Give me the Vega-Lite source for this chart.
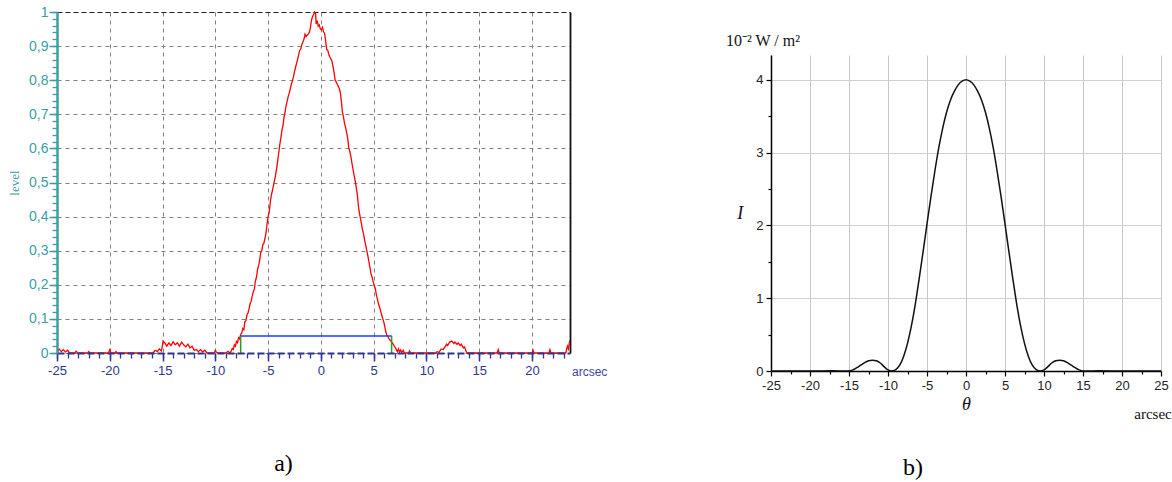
{
  "$schema": "https://vega.github.io/schema/vega-lite/v6.json",
  "padding": {"left": 8, "top": 5, "right": 0, "bottom": 0},
  "spacing": 118,
  "config": {"view": {"stroke": null}, "axis": {"labelFont": "Liberation Sans"}},
  "hconcat": [
    {
      "width": 513,
      "height": 341,
      "title": {"text": "a)", "orient": "bottom", "font": "Liberation Serif", "fontSize": 24, "fontWeight": "normal", "color": "black", "offset": 74, "dx": -30},
      "resolve": {"axis": {"x": "independent", "y": "independent"}},
      "layer": [
        {
          "data": {"values": [
            {"t": -25, "v": 0}, {"t": -24.8, "v": 0.012}, {"t": -24.6, "v": 0.004}, {"t": -24.4, "v": 0.01}, {"t": -24.2, "v": 0.003}, {"t": -24.0, "v": 0.008}, {"t": -23.8, "v": 0}, {"t": -23.3, "v": 0}, {"t": -23.2, "v": 0.005}, {"t": -23.0, "v": 0}, {"t": -22.1, "v": 0}, {"t": -22.0, "v": 0.004}, {"t": -21.9, "v": 0}, {"t": -20.1, "v": 0}, {"t": -20.0, "v": 0.012}, {"t": -19.9, "v": 0}, {"t": -19.5, "v": 0}, {"t": -19.4, "v": 0.004}, {"t": -19.3, "v": 0},
            {"t": -15.9, "v": 0}, {"t": -15.7, "v": 0.008}, {"t": -15.5, "v": 0.004}, {"t": -15.3, "v": 0.012}, {"t": -15.1, "v": 0.006}, {"t": -14.95, "v": 0.035}, {"t": -14.8, "v": 0.03}, {"t": -14.6, "v": 0.02}, {"t": -14.4, "v": 0.03}, {"t": -14.2, "v": 0.022}, {"t": -14.0, "v": 0.033}, {"t": -13.8, "v": 0.024}, {"t": -13.6, "v": 0.03}, {"t": -13.4, "v": 0.02}, {"t": -13.2, "v": 0.032}, {"t": -13.0, "v": 0.024}, {"t": -12.8, "v": 0.018}, {"t": -12.6, "v": 0.026}, {"t": -12.4, "v": 0.015}, {"t": -12.2, "v": 0.02}, {"t": -12.0, "v": 0.008}, {"t": -11.8, "v": 0.01}, {"t": -11.6, "v": 0.004}, {"t": -11.4, "v": 0.01}, {"t": -11.2, "v": 0.003}, {"t": -11.0, "v": 0.008}, {"t": -10.8, "v": 0}, {"t": -10.1, "v": 0}, {"t": -10.0, "v": 0.008}, {"t": -9.9, "v": 0.002}, {"t": -9.7, "v": 0}, {"t": -9.0, "v": 0}, {"t": -8.8, "v": 0.005},
            {"t": -8.6, "v": 0}, {"t": -8.5, "v": 0.006}, {"t": -8.4, "v": 0.013}, {"t": -8.3, "v": 0.01}, {"t": -8.2, "v": 0.024}, {"t": -8.1, "v": 0.02}, {"t": -8.0, "v": 0.034}, {"t": -7.9, "v": 0.03}, {"t": -7.8, "v": 0.045}, {"t": -7.7, "v": 0.041}, {"t": -7.6, "v": 0.055}, {"t": -7.5, "v": 0.058}, {"t": -7.4, "v": 0.072}, {"t": -7.3, "v": 0.068}, {"t": -7.2, "v": 0.092}, {"t": -7.1, "v": 0.095}, {"t": -7.0, "v": 0.112}, {"t": -6.9, "v": 0.118}, {"t": -6.8, "v": 0.13}, {"t": -6.7, "v": 0.145}, {"t": -6.6, "v": 0.152}, {"t": -6.5, "v": 0.168}, {"t": -6.4, "v": 0.18}, {"t": -6.3, "v": 0.188}, {"t": -6.2, "v": 0.212}, {"t": -6.1, "v": 0.222}, {"t": -6.0, "v": 0.245}, {"t": -5.9, "v": 0.256}, {"t": -5.8, "v": 0.272}, {"t": -5.7, "v": 0.295}, {"t": -5.6, "v": 0.3}, {"t": -5.5, "v": 0.318}, {"t": -5.4, "v": 0.322}, {"t": -5.3, "v": 0.335}, {"t": -5.2, "v": 0.352}, {"t": -5.1, "v": 0.378}, {"t": -5.0, "v": 0.4}, {"t": -4.9, "v": 0.412}, {"t": -4.8, "v": 0.44}, {"t": -4.7, "v": 0.462}, {"t": -4.6, "v": 0.475}, {"t": -4.5, "v": 0.49}, {"t": -4.4, "v": 0.505}, {"t": -4.3, "v": 0.52}, {"t": -4.2, "v": 0.54}, {"t": -4.1, "v": 0.562}, {"t": -4.0, "v": 0.585}, {"t": -3.9, "v": 0.61}, {"t": -3.8, "v": 0.628}, {"t": -3.7, "v": 0.652}, {"t": -3.6, "v": 0.665}, {"t": -3.5, "v": 0.69}, {"t": -3.4, "v": 0.705}, {"t": -3.3, "v": 0.725}, {"t": -3.2, "v": 0.738}, {"t": -3.1, "v": 0.752}, {"t": -3.0, "v": 0.762}, {"t": -2.9, "v": 0.775}, {"t": -2.8, "v": 0.788}, {"t": -2.7, "v": 0.798}, {"t": -2.6, "v": 0.81}, {"t": -2.5, "v": 0.825}, {"t": -2.4, "v": 0.838}, {"t": -2.3, "v": 0.85}, {"t": -2.2, "v": 0.862}, {"t": -2.1, "v": 0.875}, {"t": -2.0, "v": 0.888}, {"t": -1.9, "v": 0.892}, {"t": -1.8, "v": 0.905}, {"t": -1.7, "v": 0.912}, {"t": -1.6, "v": 0.92}, {"t": -1.5, "v": 0.935}, {"t": -1.4, "v": 0.928}, {"t": -1.3, "v": 0.932}, {"t": -1.2, "v": 0.935}, {"t": -1.1, "v": 0.94}, {"t": -1.0, "v": 0.952}, {"t": -0.9, "v": 0.975}, {"t": -0.8, "v": 0.986}, {"t": -0.7, "v": 0.992}, {"t": -0.6, "v": 1.0}, {"t": -0.5, "v": 0.995}, {"t": -0.45, "v": 0.965}, {"t": -0.35, "v": 0.975}, {"t": -0.25, "v": 0.958}, {"t": -0.15, "v": 0.962}, {"t": -0.05, "v": 0.95}, {"t": 0.05, "v": 0.948}, {"t": 0.15, "v": 0.955}, {"t": 0.25, "v": 0.942}, {"t": 0.35, "v": 0.938}, {"t": 0.45, "v": 0.915}, {"t": 0.55, "v": 0.89}, {"t": 0.65, "v": 0.888}, {"t": 0.75, "v": 0.875}, {"t": 0.85, "v": 0.868}, {"t": 0.95, "v": 0.862}, {"t": 1.05, "v": 0.855}, {"t": 1.15, "v": 0.84}, {"t": 1.25, "v": 0.822}, {"t": 1.35, "v": 0.8}, {"t": 1.45, "v": 0.795}, {"t": 1.55, "v": 0.788}, {"t": 1.65, "v": 0.782}, {"t": 1.75, "v": 0.775}, {"t": 1.85, "v": 0.762}, {"t": 1.95, "v": 0.735}, {"t": 2.05, "v": 0.705}, {"t": 2.15, "v": 0.69}, {"t": 2.25, "v": 0.672}, {"t": 2.35, "v": 0.66}, {"t": 2.45, "v": 0.645}, {"t": 2.55, "v": 0.628}, {"t": 2.65, "v": 0.6}, {"t": 2.75, "v": 0.59}, {"t": 2.85, "v": 0.575}, {"t": 2.95, "v": 0.555}, {"t": 3.05, "v": 0.538}, {"t": 3.15, "v": 0.52}, {"t": 3.25, "v": 0.505}, {"t": 3.35, "v": 0.485}, {"t": 3.45, "v": 0.465}, {"t": 3.55, "v": 0.432}, {"t": 3.65, "v": 0.41}, {"t": 3.75, "v": 0.395}, {"t": 3.85, "v": 0.378}, {"t": 3.95, "v": 0.36}, {"t": 4.05, "v": 0.348}, {"t": 4.15, "v": 0.33}, {"t": 4.25, "v": 0.315}, {"t": 4.35, "v": 0.3}, {"t": 4.45, "v": 0.285}, {"t": 4.55, "v": 0.268}, {"t": 4.65, "v": 0.25}, {"t": 4.75, "v": 0.232}, {"t": 4.85, "v": 0.222}, {"t": 4.95, "v": 0.21}, {"t": 5.05, "v": 0.198}, {"t": 5.15, "v": 0.19}, {"t": 5.25, "v": 0.172}, {"t": 5.35, "v": 0.158}, {"t": 5.45, "v": 0.145}, {"t": 5.55, "v": 0.135}, {"t": 5.65, "v": 0.125}, {"t": 5.75, "v": 0.112}, {"t": 5.85, "v": 0.102}, {"t": 5.95, "v": 0.092}, {"t": 6.05, "v": 0.078}, {"t": 6.15, "v": 0.062}, {"t": 6.25, "v": 0.052}, {"t": 6.35, "v": 0.048}, {"t": 6.45, "v": 0.042}, {"t": 6.55, "v": 0.038}, {"t": 6.65, "v": 0.034}, {"t": 6.75, "v": 0.03}, {"t": 6.85, "v": 0.026}, {"t": 6.95, "v": 0.02}, {"t": 7.05, "v": 0.016}, {"t": 7.15, "v": 0.01}, {"t": 7.25, "v": 0.004}, {"t": 7.35, "v": 0.012}, {"t": 7.45, "v": 0.003}, {"t": 7.55, "v": 0.009}, {"t": 7.65, "v": 0.002}, {"t": 7.8, "v": 0.008}, {"t": 7.9, "v": 0},
            {"t": 8.3, "v": 0}, {"t": 8.4, "v": 0.006}, {"t": 8.5, "v": 0}, {"t": 10.9, "v": 0}, {"t": 11.0, "v": 0.004}, {"t": 11.2, "v": 0.002}, {"t": 11.4, "v": 0.012}, {"t": 11.6, "v": 0.01}, {"t": 11.8, "v": 0.02}, {"t": 11.9, "v": 0.026}, {"t": 12.0, "v": 0.022}, {"t": 12.2, "v": 0.032}, {"t": 12.4, "v": 0.035}, {"t": 12.6, "v": 0.028}, {"t": 12.7, "v": 0.032}, {"t": 12.9, "v": 0.025}, {"t": 13.0, "v": 0.03}, {"t": 13.2, "v": 0.022}, {"t": 13.3, "v": 0.026}, {"t": 13.5, "v": 0.015}, {"t": 13.6, "v": 0.018}, {"t": 13.8, "v": 0.002}, {"t": 13.9, "v": 0},
            {"t": 16.7, "v": 0}, {"t": 16.8, "v": 0.01}, {"t": 16.9, "v": 0}, {"t": 20.0, "v": 0}, {"t": 20.1, "v": 0.008}, {"t": 20.2, "v": 0}, {"t": 21.6, "v": 0}, {"t": 21.7, "v": 0.01}, {"t": 21.8, "v": 0}, {"t": 23.2, "v": 0}, {"t": 23.35, "v": 0.02}, {"t": 23.45, "v": 0.012}, {"t": 23.55, "v": 0.033}, {"t": 23.6, "v": 0.03}
          ]},
          "mark": {"type": "line", "color": "#ff0000", "strokeWidth": 1.3},
          "encoding": {
            "x": {"field": "t", "type": "quantitative", "scale": {"domain": [-25, 23.6], "nice": false, "zero": false},
              "axis": {"orient": "bottom", "values": [-25, -20, -15, -10, -5, 0, 5, 10, 15, 20], "labelExpr": "'' + datum.value", "labelColor": "#2d3590", "labelFontSize": 13, "labelPadding": 3, "labelFlush": false, "labelOverlap": false, "tickColor": "#2d3590", "tickSize": 8, "tickWidth": 1.5, "domain": false, "grid": true, "gridColor": "#808080", "gridDash": [4, 4], "gridWidth": 1, "title": null}},
            "y": {"field": "v", "type": "quantitative", "scale": {"domain": [0, 1], "nice": false},
              "axis": {"orient": "left", "values": [0, 0.1, 0.2, 0.3, 0.4, 0.5, 0.6, 0.7, 0.8, 0.9, 1], "labelExpr": "replace(format(datum.value, '.1~f'), '.', ',')", "labelColor": "#3c9ea3", "labelFontSize": 14, "labelPadding": 1, "labelFlush": false, "labelOverlap": false, "tickColor": "#3c9ea3", "tickSize": 8, "tickWidth": 1.5, "domain": false, "grid": true, "gridColor": "#808080", "gridDash": [4, 4], "gridWidth": 1, "title": "level", "titleFont": "Liberation Serif", "titleFontSize": 13, "titleFontWeight": "normal", "titleColor": "#3c9ea3", "titlePadding": 7}}
          }
        },
        {
          "data": {"values": [{"x1": -7.6, "x2": 6.7, "lev": 0.05}]},
          "mark": {"type": "rule", "color": "#1a3cff", "strokeWidth": 1.5},
          "encoding": {
            "x": {"field": "x1", "type": "quantitative",
              "axis": {"orient": "bottom", "values": [-25, -24, -23, -22, -21, -20, -19, -18, -17, -16, -15, -14, -13, -12, -11, -10, -9, -8, -7, -6, -5, -4, -3, -2, -1, 0, 1, 2, 3, 4, 5, 6, 7, 8, 9, 10, 11, 12, 13, 14, 15, 16, 17, 18, 19, 20, 21, 22, 23], "labels": false, "grid": false, "tickColor": "#2d3590", "tickSize": 5, "tickWidth": 1.3, "domain": true, "domainColor": "#2d3590", "domainDash": [7, 3], "domainWidth": 1.8, "zindex": 1, "title": null}},
            "x2": {"field": "x2"},
            "y": {"field": "lev", "type": "quantitative",
              "axis": {"orient": "left", "values": [0, 0.02, 0.04, 0.06, 0.08, 0.1, 0.12, 0.14, 0.16, 0.18, 0.2, 0.22, 0.24, 0.26, 0.28, 0.3, 0.32, 0.34, 0.36, 0.38, 0.4, 0.42, 0.44, 0.46, 0.48, 0.5, 0.52, 0.54, 0.56, 0.58, 0.6, 0.62, 0.64, 0.66, 0.68, 0.7, 0.72, 0.74, 0.76, 0.78, 0.8, 0.82, 0.84, 0.86, 0.88, 0.9, 0.92, 0.94, 0.96, 0.98, 1], "labels": false, "grid": false, "tickColor": "#3c9ea3", "tickSize": 5, "tickWidth": 1.3, "domain": true, "domainColor": "#3c9ea3", "domainWidth": 2.5, "zindex": 1, "title": null}}
          }
        },
        {
          "data": {"values": [{"t": -7.6, "lo": 0, "hi": 0.05}, {"t": 6.7, "lo": 0, "hi": 0.05}]},
          "mark": {"type": "rule", "color": "#2a9a2a", "strokeWidth": 1.5},
          "encoding": {
            "x": {"field": "t", "type": "quantitative",
              "axis": {"orient": "top", "labels": false, "ticks": false, "grid": false, "domain": true, "domainColor": "#222222", "domainDash": [5, 3], "domainWidth": 1.2, "title": null}},
            "y": {"field": "lo", "type": "quantitative",
              "axis": {"orient": "right", "labels": false, "ticks": false, "grid": false, "domain": true, "domainColor": "#111111", "domainWidth": 1.8, "title": null}},
            "y2": {"field": "hi"}
          }
        },
        {
          "data": {"values": [{"unit": "arcsec"}]},
          "mark": {"type": "text", "align": "left", "baseline": "middle", "font": "Liberation Sans", "fontSize": 12, "color": "#3d44a8", "dx": 2, "dy": 19},
          "encoding": {
            "text": {"field": "unit"},
            "x": {"datum": 23.6, "type": "quantitative", "axis": null},
            "y": {"datum": 0, "type": "quantitative", "axis": null}
          }
        }
      ]
    },
    {
      "bounds": "flush",
      "spacing": 1,
      "vconcat": [
        {
          "width": 390,
          "height": 42,
          "data": {"values": [{"u": "10⁻² W / m²"}]},
          "mark": {"type": "text", "align": "left", "baseline": "alphabetic", "font": "Liberation Serif", "fontSize": 16, "color": "#111111", "dx": -45, "dy": 13},
          "encoding": {
            "x": {"datum": -25, "type": "quantitative", "scale": {"domain": [-25, 25], "nice": false}, "axis": null},
            "text": {"field": "u"}
          }
        },
        {
          "width": 390,
          "height": 316,
          "title": {"text": "b)", "orient": "bottom", "font": "Liberation Serif", "fontSize": 24, "fontWeight": "normal", "color": "black", "offset": 34, "dx": -53},
          "resolve": {"axis": {"x": "independent", "y": "independent"}},
          "layer": [
            {
              "data": {"values": [
                {"t": -25, "I": 0}, {"t": -20, "I": 0}, {"t": -17, "I": 0.003}, {"t": -15.5, "I": 0}, {"t": -15, "I": 0}, {"t": -14.5, "I": 0.015}, {"t": -14, "I": 0.045}, {"t": -13.5, "I": 0.08}, {"t": -13, "I": 0.115}, {"t": -12.5, "I": 0.14}, {"t": -12, "I": 0.148}, {"t": -11.5, "I": 0.14}, {"t": -11, "I": 0.11}, {"t": -10.5, "I": 0.06}, {"t": -10, "I": 0.015}, {"t": -9.55, "I": 0}, {"t": -9, "I": 0.02}, {"t": -8.5, "I": 0.08}, {"t": -8, "I": 0.2}, {"t": -7.5, "I": 0.38}, {"t": -7, "I": 0.62}, {"t": -6.5, "I": 0.92}, {"t": -6, "I": 1.27}, {"t": -5.5, "I": 1.64}, {"t": -5, "I": 2.02}, {"t": -4.5, "I": 2.39}, {"t": -4, "I": 2.74}, {"t": -3.5, "I": 3.06}, {"t": -3, "I": 3.33}, {"t": -2.5, "I": 3.55}, {"t": -2, "I": 3.72}, {"t": -1.5, "I": 3.84}, {"t": -1, "I": 3.93}, {"t": -0.5, "I": 3.98}, {"t": 0, "I": 4.0},
                {"t": 0.5, "I": 3.98}, {"t": 1, "I": 3.93}, {"t": 1.5, "I": 3.84}, {"t": 2, "I": 3.72}, {"t": 2.5, "I": 3.55}, {"t": 3, "I": 3.33}, {"t": 3.5, "I": 3.06}, {"t": 4, "I": 2.74}, {"t": 4.5, "I": 2.39}, {"t": 5, "I": 2.02}, {"t": 5.5, "I": 1.64}, {"t": 6, "I": 1.27}, {"t": 6.5, "I": 0.92}, {"t": 7, "I": 0.62}, {"t": 7.5, "I": 0.38}, {"t": 8, "I": 0.2}, {"t": 8.5, "I": 0.08}, {"t": 9, "I": 0.02}, {"t": 9.55, "I": 0}, {"t": 10, "I": 0.015}, {"t": 10.5, "I": 0.06}, {"t": 11, "I": 0.11}, {"t": 11.5, "I": 0.14}, {"t": 12, "I": 0.148}, {"t": 12.5, "I": 0.14}, {"t": 13, "I": 0.115}, {"t": 13.5, "I": 0.08}, {"t": 14, "I": 0.045}, {"t": 14.5, "I": 0.015}, {"t": 15, "I": 0}, {"t": 15.5, "I": 0}, {"t": 17, "I": 0.003}, {"t": 20, "I": 0}, {"t": 25, "I": 0}
              ]},
              "mark": {"type": "line", "color": "#111111", "strokeWidth": 1.5, "interpolate": "monotone"},
              "encoding": {
                "x": {"field": "t", "type": "quantitative", "scale": {"domain": [-25, 25], "nice": false, "zero": false},
                  "axis": {"orient": "bottom", "values": [-25, -20, -15, -10, -5, 0, 5, 10, 15, 20, 25], "labelExpr": "'' + datum.value", "labelFont": "Liberation Sans", "labelFontSize": 13, "labelColor": "#222222", "labelPadding": 3, "labelFlush": false, "labelOverlap": false, "tickColor": "black", "tickSize": 5, "tickWidth": 1.2, "domainColor": "black", "domainWidth": 1.5, "grid": true, "gridColor": "#c8c8c8", "gridWidth": 1, "title": "θ", "titleFont": "Liberation Serif", "titleFontStyle": "italic", "titleFontSize": 18, "titleFontWeight": "normal", "titleColor": "#111111", "titlePadding": 3}},
                "y": {"field": "I", "type": "quantitative", "scale": {"domain": [0, 4.34], "nice": false},
                  "axis": {"orient": "left", "values": [0, 1, 2, 3, 4], "labelFont": "Liberation Sans", "labelFontSize": 13, "labelColor": "#222222", "labelPadding": 3, "labelFlush": false, "tickColor": "black", "tickSize": 5, "tickWidth": 1.2, "domainColor": "black", "domainWidth": 1.5, "grid": true, "gridColor": "#d0d0d0", "gridWidth": 1, "title": "I", "titleAngle": 0, "titleAlign": "right", "titleBaseline": "middle", "titleFont": "Liberation Serif", "titleFontStyle": "italic", "titleFontSize": 18, "titleFontWeight": "normal", "titleColor": "#111111", "titlePadding": 13}}
              }
            },
            {
              "data": {"values": [{"unit": "arcsec"}]},
              "mark": {"type": "text", "align": "center", "baseline": "middle", "font": "Liberation Serif", "fontSize": 15, "color": "#111111", "dx": -8, "dy": 43},
              "encoding": {
                "text": {"field": "unit"},
                "x": {"datum": 25, "type": "quantitative",
                  "axis": {"orient": "bottom", "values": [-22.5, -17.5, -12.5, -7.5, -2.5, 2.5, 7.5, 12.5, 17.5, 22.5], "labels": false, "grid": false, "domain": false, "tickColor": "black", "tickSize": 3, "tickWidth": 1.2, "title": null}},
                "y": {"datum": 0, "type": "quantitative",
                  "axis": {"orient": "left", "values": [0.5, 1.5, 2.5, 3.5], "labels": false, "grid": false, "domain": false, "tickColor": "black", "tickSize": 3, "tickWidth": 1.2, "title": null}}
              }
            }
          ]
        }
      ]
    }
  ]
}
